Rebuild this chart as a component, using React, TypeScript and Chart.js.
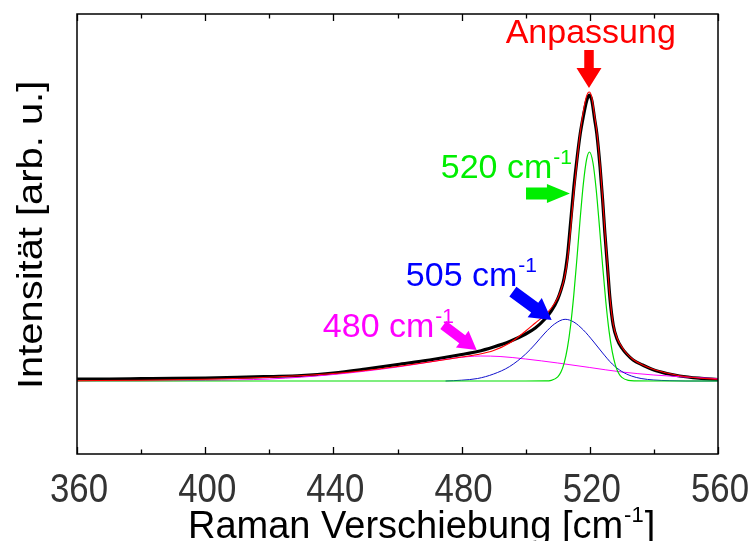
import React, { useEffect, useRef } from "react";
import { Chart, registerables } from "chart.js";

Chart.register(...registerables);

const FONT_FAMILY = '"Liberation Sans", Arial, Helvetica, sans-serif';

// Axis ranges (intensity in arbitrary units, baseline at 0)
const X_MIN = 360;
const X_MAX = 560;
const Y_MIN = -73;
const Y_MAX = 367;
const majorTicks = [360, 400, 440, 480, 520, 560];
const minorTicks = [380, 420, 460, 500, 540];

// Measured Raman spectrum
const measuredShift = [
  360, 370, 380, 390, 400, 410, 420, 430, 440, 450, 460, 470, 480, 485, 490,
  495, 500, 503, 506, 508, 510, 511, 512, 513, 514, 515, 516, 517, 518, 519,
  519.8, 520.6, 521.5, 522.2, 523.2, 524, 524.7, 525.5, 526.3, 527.3, 528.5,
  530, 531.5, 533.5, 536.5, 540, 544, 548, 554, 560,
];
const measuredIntensity = [
  2, 2, 2.3, 2.6, 3, 3.6, 4.5, 5.5, 8, 12, 16.5, 21, 26.5, 29.5, 34, 39.5, 47,
  53, 62, 70, 82, 91, 103, 124, 158, 193, 222, 247, 265, 280, 286, 281, 262,
  247, 214, 181, 148, 115, 82, 56, 42, 33, 27, 21, 16, 11, 7.5, 5, 2.8, 1.5,
];

// Total fit
const fitShift = [
  360, 380, 400, 420, 440, 450, 460, 470, 480, 485, 490, 495, 500, 503, 506,
  508, 510, 511, 512, 513, 514, 515, 516, 517, 518, 519, 519.8, 520.6, 521.5,
  522.2, 523.2, 524, 524.7, 525.5, 526.3, 527.3, 528.5, 530, 531.5, 533.5,
  536.5, 540, 544, 548, 554, 560,
];
const fitIntensity = [
  0.3, 0.8, 1.8, 3.8, 7.5, 10.5, 14.5, 19, 24, 26.5, 30.5, 38, 50, 58, 66, 73,
  83, 91, 102, 120, 152, 188, 220, 248, 270, 285, 289, 284, 265, 249, 216, 183,
  150, 116, 83, 57, 43, 34, 27.5, 21.5, 16, 11.5, 8, 5.3, 3, 1.8,
];

// Component at 520 cm-1
const band520Shift = [
  360, 500, 506, 508, 510, 511, 512, 513, 514, 515, 516, 517, 518, 519, 519.9,
  521, 522, 523, 524, 525, 526, 527, 528, 529, 530, 532, 534, 540, 560,
];
const band520Intensity = [
  0, 0, 0.1, 0.7, 4.2, 9, 17.9, 32.8, 55.3, 85.9, 123, 162.5, 197.6, 221.6,
  229, 218, 191.3, 154.7, 115.3, 79.2, 50.1, 29.3, 15.7, 7.8, 3.6, 0.6, 0.1, 0,
  0,
];

// Component at 505 cm-1
const band505Shift = [
  475, 480, 485, 490, 495, 500, 503, 506, 509, 512.3, 515, 518, 521, 524, 527,
  530, 533, 536, 540, 545, 550, 560,
];
const band505Intensity = [
  0, 0.8, 2.5, 7, 14.5, 27, 37, 48, 57, 61.7, 59, 51, 40, 28, 17, 9.5, 5, 2.5,
  1, 0.3, 0, 0,
];

// Component at 480 cm-1
const band480Shift = [
  360, 380, 400, 420, 440, 460, 470, 478, 486, 492, 500, 510, 520, 530, 540,
  548, 560,
];
const band480Intensity = [
  0, 0.1, 0.6, 2, 6.5, 14, 19, 23, 25, 24.5, 22, 18, 13.5, 9, 6, 4.3, 2.3,
];

const toPoints = (xs: number[], ys: number[]) =>
  xs.map((x, i) => ({ x, y: ys[i] }));

type Note = {
  text: string;
  color: string;
  at: [number, number]; // text anchor (shift, intensity)
  align: "left" | "center";
  sup: boolean;
  tail: [number, number];
  tip: [number, number];
  shaft: number;
  head: number;
  headLen: number;
};

const notes: Note[] = [
  {
    text: "Anpassung",
    color: "#ff0000",
    at: [520.3, 338],
    align: "center",
    sup: false,
    tail: [519.75, 331],
    tip: [519.75, 293],
    shaft: 9.5,
    head: 25,
    headLen: 20,
  },
  {
    text: "520 cm",
    color: "#00ee00",
    at: [473.5, 203],
    align: "left",
    sup: true,
    tail: [500.1, 187.5],
    tip: [513.8, 187.5],
    shaft: 12,
    head: 19,
    headLen: 23,
  },
  {
    text: "505 cm",
    color: "#0000ff",
    at: [462.6, 95],
    align: "left",
    sup: true,
    tail: [496.0, 89.3],
    tip: [508.1, 61],
    shaft: 12,
    head: 24,
    headLen: 21,
  },
  {
    text: "480 cm",
    color: "#ff00ff",
    at: [436.7, 43.7],
    align: "left",
    sup: true,
    tail: [474.3, 56],
    tip: [484.7, 31],
    shaft: 10,
    head: 21,
    headLen: 18,
  },
];

function drawArrow(
  ctx: CanvasRenderingContext2D,
  x0: number,
  y0: number,
  x1: number,
  y1: number,
  shaft: number,
  head: number,
  headLen: number
) {
  const dx = x1 - x0;
  const dy = y1 - y0;
  const len = Math.hypot(dx, dy);
  const ux = dx / len;
  const uy = dy / len;
  const px = -uy;
  const py = ux;
  const nx = x1 - ux * headLen;
  const ny = y1 - uy * headLen;
  const s = shaft / 2;
  const h = head / 2;
  ctx.beginPath();
  ctx.moveTo(x0 + px * s, y0 + py * s);
  ctx.lineTo(nx + px * s, ny + py * s);
  ctx.lineTo(nx + px * h, ny + py * h);
  ctx.lineTo(x1, y1);
  ctx.lineTo(nx - px * h, ny - py * h);
  ctx.lineTo(nx - px * s, ny - py * s);
  ctx.lineTo(x0 - px * s, y0 - py * s);
  ctx.closePath();
  ctx.fill();
}

// Text followed by a "-1" superscript and optional trailing text
function drawSupText(
  ctx: CanvasRenderingContext2D,
  text: string,
  x: number,
  y: number,
  size: number,
  supSize: number,
  after: string
) {
  ctx.font = `${size}px ${FONT_FAMILY}`;
  ctx.fillText(text, x, y);
  let cx = x + ctx.measureText(text).width + 1;
  ctx.font = `${supSize}px ${FONT_FAMILY}`;
  ctx.fillText("-1", cx, y - size * 0.42);
  cx += ctx.measureText("-1").width + 1;
  if (after) {
    ctx.font = `${size}px ${FONT_FAMILY}`;
    ctx.fillText(after, cx, y);
  }
}

const framePlugin = {
  id: "ramanFrame",
  afterDraw(chart: any) {
    const { ctx, chartArea } = chart;
    const xs = chart.scales.x;
    const ys = chart.scales.y;
    const { left, right, top, bottom } = chartArea;
    ctx.save();

    // frame
    ctx.strokeStyle = "#000";
    ctx.lineWidth = 1.5;
    ctx.strokeRect(left, top, right - left, bottom - top);

    // inward tick marks on bottom and top edges
    ctx.lineWidth = 1.3;
    const tick = (v: number, len: number) => {
      const px = Math.round(xs.getPixelForValue(v)) + 0.5;
      ctx.beginPath();
      ctx.moveTo(px, bottom);
      ctx.lineTo(px, bottom - len);
      ctx.moveTo(px, top);
      ctx.lineTo(px, top + len);
      ctx.stroke();
    };
    majorTicks.forEach((v) => tick(v, 7));
    minorTicks.forEach((v) => tick(v, 4.5));

    // tick labels (slightly condensed)
    ctx.fillStyle = "#333333";
    ctx.textAlign = "center";
    ctx.textBaseline = "alphabetic";
    ctx.font = `40px ${FONT_FAMILY}`;
    majorTicks.forEach((v) => {
      const px = xs.getPixelForValue(v);
      ctx.save();
      ctx.translate(px + 2, 502);
      ctx.scale(0.87, 1);
      ctx.fillText(String(v), 0, 0);
      ctx.restore();
    });

    // axis titles
    ctx.fillStyle = "#000";
    ctx.textAlign = "left";
    drawSupText(ctx, "Raman Verschiebung [cm", 188, 538, 38, 22, "]");

    ctx.save();
    ctx.translate(42, 389);
    ctx.rotate(-Math.PI / 2);
    ctx.scale(1.14, 1);
    ctx.font = `35px ${FONT_FAMILY}`;
    ctx.fillText("Intensität [arb. u.]", 0, 0);
    ctx.restore();

    // peak annotations
    notes.forEach((n) => {
      ctx.fillStyle = n.color;
      const tx = xs.getPixelForValue(n.at[0]);
      const ty = ys.getPixelForValue(n.at[1]);
      if (n.sup) {
        ctx.textAlign = "left";
        drawSupText(ctx, n.text, tx, ty, 34, 21, "");
      } else {
        ctx.textAlign = n.align;
        ctx.font = `34px ${FONT_FAMILY}`;
        ctx.fillText(n.text, tx, ty);
      }
      drawArrow(
        ctx,
        xs.getPixelForValue(n.tail[0]),
        ys.getPixelForValue(n.tail[1]),
        xs.getPixelForValue(n.tip[0]),
        ys.getPixelForValue(n.tip[1]),
        n.shaft,
        n.head,
        n.headLen
      );
    });
    ctx.restore();
  },
};

export default function App() {
  const canvasRef = useRef<HTMLCanvasElement | null>(null);

  useEffect(() => {
    const canvas = canvasRef.current;
    if (!canvas) return;
    const line = (
      data: { x: number; y: number }[],
      color: string,
      width: number,
      order: number
    ) => ({
      data,
      borderColor: color,
      backgroundColor: color,
      borderWidth: width,
      pointRadius: 0,
      fill: false,
      cubicInterpolationMode: "monotone" as const,
      order,
    });

    const chart = new Chart(canvas, {
      type: "line",
      data: {
        datasets: [
          line(toPoints(measuredShift, measuredIntensity), "#000000", 3.2, 5),
          line(toPoints(band480Shift, band480Intensity), "#ff00ff", 1, 4),
          line(toPoints(band505Shift, band505Intensity), "#1010cc", 1, 3),
          line(toPoints(band520Shift, band520Intensity), "#00dd00", 1.2, 2),
          line(toPoints(fitShift, fitIntensity), "#ff0000", 1.1, 1),
        ],
      },
      options: {
        responsive: false,
        animation: false,
        events: [],
        layout: { padding: { left: 0, right: 33, top: 14, bottom: 0 } },
        plugins: {
          legend: { display: false },
          tooltip: { enabled: false },
        },
        scales: {
          x: {
            type: "linear",
            min: X_MIN,
            max: X_MAX,
            afterFit: (s: any) => {
              s.height = 87;
            },
            grid: { display: false, drawTicks: false },
            border: { display: false },
            ticks: { display: false, stepSize: 20 },
          },
          y: {
            type: "linear",
            min: Y_MIN,
            max: Y_MAX,
            afterFit: (s: any) => {
              s.width = 77;
            },
            grid: { display: false, drawTicks: false },
            border: { display: false },
            ticks: { display: false },
          },
        },
      },
      plugins: [framePlugin],
    });
    return () => chart.destroy();
  }, []);

  return (
    <div
      style={{
        position: "fixed",
        left: 0,
        top: 0,
        width: 751,
        height: 541,
        background: "#fff",
      }}
    >
      <canvas ref={canvasRef} width={751} height={541} />
    </div>
  );
}
